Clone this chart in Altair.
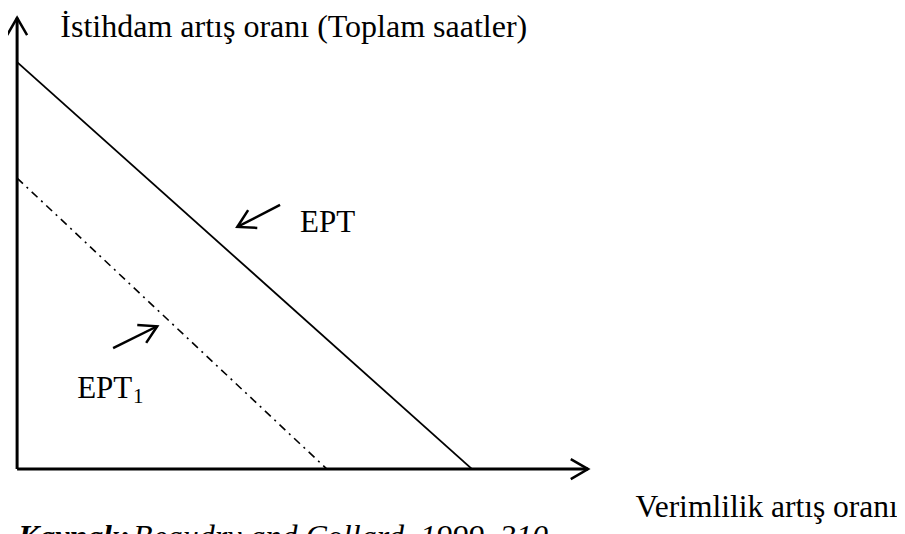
import math
import altair as alt
import pandas as pd

# ---- scale setup (arbitrary units of the schematic diagram) ----
X_DOMAIN = [-2.0, 193.4]
Y_DOMAIN = [-24.3, 113.3]
W, H = 889, 560
KX = W / (X_DOMAIN[1] - X_DOMAIN[0])
KY = H / (Y_DOMAIN[1] - Y_DOMAIN[0])

FONT = "Liberation Serif"

# ---- curves ----
ept_x = [0, 100]
ept_y = [100, 0]
ept1_x = [0, 68.1]
ept1_y = [71.5, 0]

# ---- axes (origin -> arrow tips) ----
axis_x_end = 125.5
axis_y_end = 110.9

# ---- annotation arrows: tail -> tip ----
arrow_names = ["EPT", "EPT1"]
arrow_tail_x = [57.8, 21.1]
arrow_tail_y = [64.9, 29.7]
arrow_tip_x = [48.4, 30.8]
arrow_tip_y = [59.5, 35.1]

# ---- texts ----
title_text = "İstihdam artış oranı (Toplam saatler)"
title_pos = [9.5, 106.15]
xlabel_text = "Verimlilik artış oranı"
xlabel_pos = [135.9, -11.8]
ept_label = "EPT"
ept_label_pos = [62.2, 58.2]
ept1_label = "EPT"
ept1_label_pos = [13.2, 17.4]
ept1_sub = "1"
ept1_sub_pos = [25.5, 16.2]
source_bold = "Kaynak:"
source_bold_pos = [0.2, -19.2]
source_rest = "Beaudry and Collard, 1999, 310"
source_rest_pos = [25.5, -19.2]

CHEVRON = "M-0.866,-0.5L0,0L-0.866,0.5"

xs = alt.Scale(domain=X_DOMAIN, nice=False, zero=False)
ys = alt.Scale(domain=Y_DOMAIN, nice=False, zero=False)
X = lambda f="x": alt.X(f"{f}:Q", scale=xs, axis=None)
Y = lambda f="y": alt.Y(f"{f}:Q", scale=ys, axis=None)


def screen_angle(dx, dy):
    return math.degrees(math.atan2(-dy * KY, dx * KX)) % 360


# axes
axes_df = pd.DataFrame({
    "x": [0, 0], "y": [0, 0],
    "x2": [axis_x_end, 0], "y2": [0, axis_y_end],
})
axes = alt.Chart(axes_df).mark_rule(color="black", strokeWidth=3).encode(
    x=X(), y=Y(), x2="x2:Q", y2="y2:Q")

heads_df = pd.DataFrame({
    "x": [axis_x_end, 0] + arrow_tip_x,
    "y": [0, axis_y_end] + arrow_tip_y,
    "angle": [screen_angle(1, 0), screen_angle(0, 1)] + [
        screen_angle(tx - sx, ty - sy)
        for sx, sy, tx, ty in zip(arrow_tail_x, arrow_tail_y, arrow_tip_x, arrow_tip_y)
    ],
})
heads = alt.Chart(heads_df).mark_point(
    shape=CHEVRON, filled=False, size=1600, strokeWidth=2.5,
    color="black", opacity=1,
).encode(x=X(), y=Y(), angle=alt.Angle("angle:Q", scale=None))

arrows_df = pd.DataFrame({
    "x": arrow_tail_x, "y": arrow_tail_y, "x2": arrow_tip_x, "y2": arrow_tip_y,
})
arrows = alt.Chart(arrows_df).mark_rule(color="black", strokeWidth=2.5).encode(
    x=X(), y=Y(), x2="x2:Q", y2="y2:Q")

ept = alt.Chart(pd.DataFrame({"x": ept_x, "y": ept_y})).mark_line(
    color="black", strokeWidth=1.8).encode(x=X(), y=Y())
ept1 = alt.Chart(pd.DataFrame({"x": ept1_x, "y": ept1_y})).mark_line(
    color="black", strokeWidth=1.6, strokeDash=[8, 5, 2, 5]).encode(x=X(), y=Y())


def text_layer(txt, pos, size=31, **kw):
    df = pd.DataFrame({"x": [pos[0]], "y": [pos[1]], "t": [txt]})
    return alt.Chart(df).mark_text(
        font=FONT, fontSize=size, align="left", baseline="alphabetic",
        color="black", **kw,
    ).encode(x=X(), y=Y(), text="t:N")


texts = [
    text_layer(title_text, title_pos, size=32),
    text_layer(xlabel_text, xlabel_pos, size=31.5),
    text_layer(ept_label, ept_label_pos),
    text_layer(ept1_label, ept1_label_pos),
    text_layer(ept1_sub, ept1_sub_pos, size=21),
    text_layer(source_bold, source_bold_pos, size=32, fontStyle="italic", fontWeight="bold"),
    text_layer(source_rest, source_rest_pos, size=32, fontStyle="italic"),
]

chart = alt.layer(axes, ept, ept1, arrows, heads, *texts).properties(
    width=W, height=H, padding=0, autosize=alt.AutoSizeParams(type="none"),
    background="white",
).configure_view(stroke=None)

chart.save("out.html", embed_options={"renderer": "svg", "actions": False})
